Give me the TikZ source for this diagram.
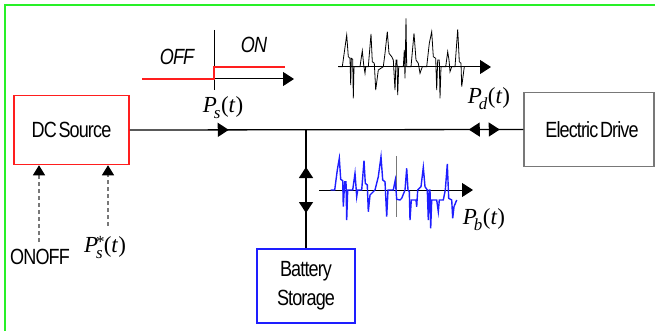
\documentclass[tikz,border=0pt]{standalone}
\usepackage{fontspec}
\setmainfont{Liberation Sans}
\newfontfamily\af{Liberation Sans}[FakeStretch=0.82,LetterSpace=-4,WordSpace=0.4]
\newfontfamily\tms{Liberation Serif}
\usetikzlibrary{arrows.meta,decorations.markings}
\definecolor{frameg}{RGB}{40,240,40}
\definecolor{boxred}{RGB}{255,30,30}
\definecolor{boxblue}{RGB}{30,30,255}
\definecolor{boxgray}{RGB}{120,120,120}
\newcommand{\Plab}[1]{{\tms\itshape P\kern-3pt\raisebox{-6pt}{\fontsize{17}{17}\selectfont #1}\kern0.5pt\upshape(\itshape t\/\upshape)}}
\newcommand{\Pstar}{{\tms\itshape P\kern-2pt\rlap{\raisebox{5pt}{\upshape\fontsize{17}{17}\selectfont *}}\raisebox{-6pt}{\fontsize{17}{17}\selectfont s}\kern1pt\upshape(\itshape t\/\upshape)}}
\begin{document}
\begin{tikzpicture}[x=1pt,y=-1pt,
  tri/.tip={Triangle[length=11pt,width=14pt]},
  boxbase/.style={draw,line width=1.5pt,inner sep=0pt,align=center,font=\af\fontsize{22}{29}\selectfont},
  wire/.style={line width=1.3pt,black},
  ctrl/.style={boxgray,line width=1.1pt,dash pattern=on 4pt off 3pt},
  lbl/.style={inner sep=0pt,font=\fontsize{23}{23}\selectfont},
  swl/.style={inner sep=0pt,font=\af\itshape\fontsize{22}{22}\selectfont},
  wave/.style={line width=0.8pt,line join=miter},
  axis/.style={line width=1pt,-{tri}}]
\useasboundingbox (0,0) rectangle (655,331);
% frame
\draw[frameg,line width=2pt] (5,340) -- (5,5) -- (665,5);

% boxes
\node[boxbase,draw=boxred,minimum width=115pt,minimum height=69pt] (dc) at (71.5,130) {DC Source};
\node[boxbase,draw=boxgray,line width=1.3pt,minimum width=130pt,minimum height=74pt] (ed) at (589,129.5) {\kern6pt Electric Drive};
\node[boxbase,draw=boxblue,minimum width=98pt,minimum height=74pt] (bat) at (306,286) {Battery\\Storage};

% main bus
\draw[wire,postaction={decorate},decoration={markings,
  mark=at position 99pt with {\arrow{tri}},
  mark=at position 339pt with {\arrowreversed{tri}},
  mark=at position 370pt with {\arrow{tri}}}] (dc.east) -- (ed.west);
\coordinate (j) at (306,130);
\draw[wire,postaction={decorate},decoration={markings,
  mark=at position 37pt with {\arrowreversed{tri}},
  mark=at position 83pt with {\arrow{tri}}}] (j) -- (bat.north);

% control inputs
\coordinate (c1) at (39,242);
\coordinate (c2) at (108,226);
\draw[ctrl,-{tri[color=black,length=10pt,width=12pt]}] (c1) -- (c1 |- dc.south);
\draw[ctrl,-{tri[color=black,length=10pt,width=12pt]}] (c2) -- (c2 |- dc.south);
\node[swl,font=\af\fontsize{22}{22}\selectfont] (onoff) at (40,257) {ONOFF};
\node[lbl] (psstar) at (105,248) {\Pstar};

% source step
\coordinate (s0) at (142,79);
\coordinate (s1) at (214,79);
\coordinate (s2) at (294,79);
\draw[line width=0.8pt] (214,30) -- (214,90);
\draw[axis] (s1) -- (s2);
\draw[boxred,line width=1.2pt] (s0) -- (s1) -- (214,67) -- (285,67);
\node[swl] (off) at (177,57) {OFF};
\node[swl] (on) at (254,45) {ON};
\node[lbl] (ps) at (223,108) {\Plab{s}};

% drive waveform
\coordinate (d0) at (338,67);
\coordinate (d1) at (491,67);
\draw[axis] (d0) -- (d1);
\draw[wave] (338.3,66.7) -- (342.3,66.7) -- (346.7,35) -- (348.3,56.7) -- (350,58.3) -- (350.7,85) -- (351.3,58.3) -- (352.7,59.3) -- (353.3,98.3) -- (354,66.7) -- (360,66.7) -- (362.3,50.7) -- (363.7,65) -- (365,73.3) -- (365.7,66.7) -- (368.3,66.7) -- (371,34) -- (372.3,61.7) -- (374.3,63.3) -- (375.7,90) -- (378.3,70) -- (383.3,66.7) -- (385,53.3) -- (387.3,31.7) -- (389,53.3) -- (391.7,56.7) -- (393.3,60) -- (395,90) -- (396,60) -- (397,60) -- (397.7,95) -- (398.7,66.7) -- (403.3,66.7) -- (404.3,50) -- (405,78.3) -- (406,18.3) -- (406.7,66.7) -- (411,66.7) -- (414,33.3) -- (416,60) -- (418.3,63.3) -- (420,73.3) -- (422.3,66.7) -- (426.7,66.7) -- (429.3,43.3) -- (431.7,31.7) -- (433.3,56.7) -- (435.7,58.3) -- (436.7,90) -- (437.7,60) -- (439.3,60) -- (440,98.3) -- (441,66.7) -- (445.7,66.7) -- (447.7,51.7) -- (449,60) -- (450,71.7) -- (451.7,66.7) -- (455,66.7) -- (457.7,29.3) -- (459.3,61.7) -- (461,63.3) -- (461.7,86.7) -- (464.3,66.7);
\node[lbl] (pd) at (489,99) {\Plab{d}};

% battery waveform
\coordinate (b0) at (319,190);
\coordinate (b1) at (473,190);
\draw[axis] (b0) -- (b1);
\draw[boxgray,line width=0.7pt] (396,156) -- (396,217);
\draw[wave,boxblue,line width=1.4pt] (330.7,190) -- (334.7,190) -- (337.3,170) -- (339.3,158.3) -- (340.7,179.3) -- (342.7,180.7) -- (343.3,206.7) -- (344.7,181.7) -- (346,181.7) -- (346.7,220) -- (347.7,190) -- (352.7,190) -- (355,173.3) -- (356,186.7) -- (356.7,196.7) -- (357.7,190) -- (361.7,190) -- (364,160.7) -- (365.3,183.3) -- (367.3,185) -- (368.3,211.7) -- (370,195) -- (375,190) -- (378.3,176.7) -- (381,156.7) -- (382.7,180) -- (385,181.7) -- (386.7,216.7) -- (388,190) -- (393.3,190) -- (395.3,180) -- (396.7,199.3) -- (400,200) -- (401.7,198.3) -- (405,190) -- (406.7,168.3) -- (408,190) -- (409.3,191.7) -- (410,220) -- (411.3,200) -- (416,200) -- (416.7,206.7) -- (417.7,190) -- (421,186.7) -- (423.3,167.3) -- (425,186.7) -- (427.3,190) -- (428.3,220) -- (429.3,190) -- (430,190) -- (430.7,228.3) -- (431.7,200) -- (436.7,200) -- (438.3,211.7) -- (439.3,200) -- (443.3,200) -- (445.3,190) -- (447.3,164) -- (448.7,198.3) -- (451.7,200) -- (452.7,218.3) -- (454,206.7) -- (456.7,200);
\node[lbl] (pb) at (484,220) {\Plab{b}};
\end{tikzpicture}
\end{document}
